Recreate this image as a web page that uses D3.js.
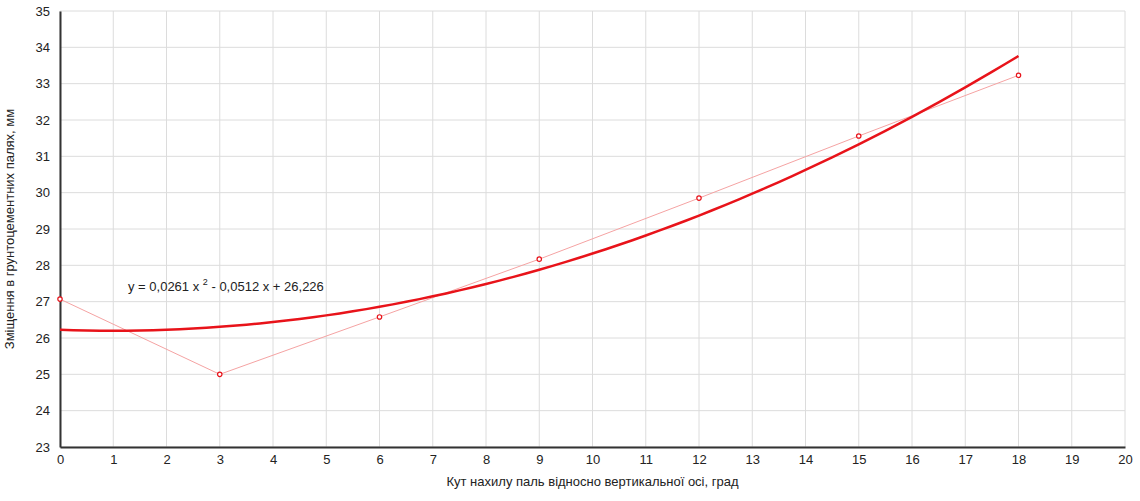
<!DOCTYPE html>
<html><head><meta charset="utf-8">
<script src="https://cdn.jsdelivr.net/npm/d3@7"></script>
<style>body{margin:0;background:#fff}svg{display:block;font-family:"Liberation Sans",Arial,sans-serif}</style>
</head><body><svg id="c" width="1140" height="501"></svg>
<script>
const xValues = [0, 3, 6, 9, 12, 15, 18];
const yValues = [27.07, 25.0, 26.58, 28.17, 29.85, 31.56, 33.23];
const trendCoefs = [26.226, -0.0512, 0.0261]; // c, b, a from the equation label
const xTicks = d3.range(0, 21, 1);
const yTicks = d3.range(23, 36, 1);
const equationText = ["y = 0,0261 x ", "2", " - 0,0512 x + 26,226"];
const xTitle = "Кут нахилу паль відносно вертикальної осі, град";
const yTitle = "Зміщення в грунтоцементних палях, мм";

const svg = d3.select("#c");
const m = {l: 60, r: 15, t: 11, b: 54};
const W = 1140, H = 501;
const x = d3.scaleLinear().domain([0, 20]).range([m.l, W - m.r]);
const y = d3.scaleLinear().domain([23, 35]).range([H - m.b, m.t]);

// grid
svg.append("g").selectAll("line").data(xTicks).join("line")
  .attr("x1", d => x(d)).attr("x2", d => x(d)).attr("y1", y(23)).attr("y2", y(35))
  .attr("stroke", "#dcdcdc").attr("stroke-width", 1);
svg.append("g").selectAll("line").data(yTicks).join("line")
  .attr("y1", d => y(d)).attr("y2", d => y(d)).attr("x1", x(0)).attr("x2", x(20))
  .attr("stroke", "#dcdcdc").attr("stroke-width", 1);

// axes
const xAxis = svg.append("g").attr("transform", `translate(0,${y(23)})`)
  .call(d3.axisBottom(x).tickValues(xTicks).tickSize(0).tickPadding(8).tickFormat(d3.format("d")));
const yAxis = svg.append("g").attr("transform", `translate(${x(0)},0)`)
  .call(d3.axisLeft(y).tickValues(yTicks).tickSize(0).tickPadding(10).tickFormat(d3.format("d")));
[xAxis, yAxis].forEach(a => {
  a.select(".domain").attr("stroke", "#333").attr("stroke-width", 2);
  a.selectAll("text").attr("font-size", 13).attr("fill", "#222")
   .attr("font-family", '"Liberation Sans",Arial,sans-serif');
});

// data line
const pts = xValues.map((v, i) => [v, yValues[i]]);
svg.append("path").datum(pts)
  .attr("d", d3.line().x(d => x(d[0])).y(d => y(d[1])))
  .attr("fill", "none").attr("stroke", "#f5a3a3").attr("stroke-width", 1);

// trend line
const tx = d3.range(0, 18.001, 0.25);
const trend = tx.map(v => [v, trendCoefs[0] + trendCoefs[1] * v + trendCoefs[2] * v * v]);
svg.append("path").datum(trend)
  .attr("d", d3.line().x(d => x(d[0])).y(d => y(d[1])))
  .attr("fill", "none").attr("stroke", "#e8131a").attr("stroke-width", 2.5);

// markers
svg.append("g").selectAll("circle").data(pts).join("circle")
  .attr("cx", d => x(d[0])).attr("cy", d => y(d[1])).attr("r", 2.2)
  .attr("fill", "#fff").attr("stroke", "#e8131a").attr("stroke-width", 1.2);

// equation
const eq = svg.append("text").attr("x", 128).attr("y", 291).attr("font-size", 13).attr("fill", "#222");
eq.append("tspan").text(equationText[0]);
eq.append("tspan").attr("dy", -6).attr("font-size", 9).text(equationText[1]);
eq.append("tspan").attr("dy", 6).text(equationText[2]);

// titles
svg.append("text").attr("x", (x(0) + x(20)) / 2).attr("y", 486).attr("text-anchor", "middle")
  .attr("font-size", 13).attr("fill", "#222").text(xTitle);
svg.append("text").attr("transform", `translate(14,${(y(23) + y(35)) / 2}) rotate(-90)`)
  .attr("text-anchor", "middle").attr("font-size", 13).attr("fill", "#222").text(yTitle);
</script></body></html>
